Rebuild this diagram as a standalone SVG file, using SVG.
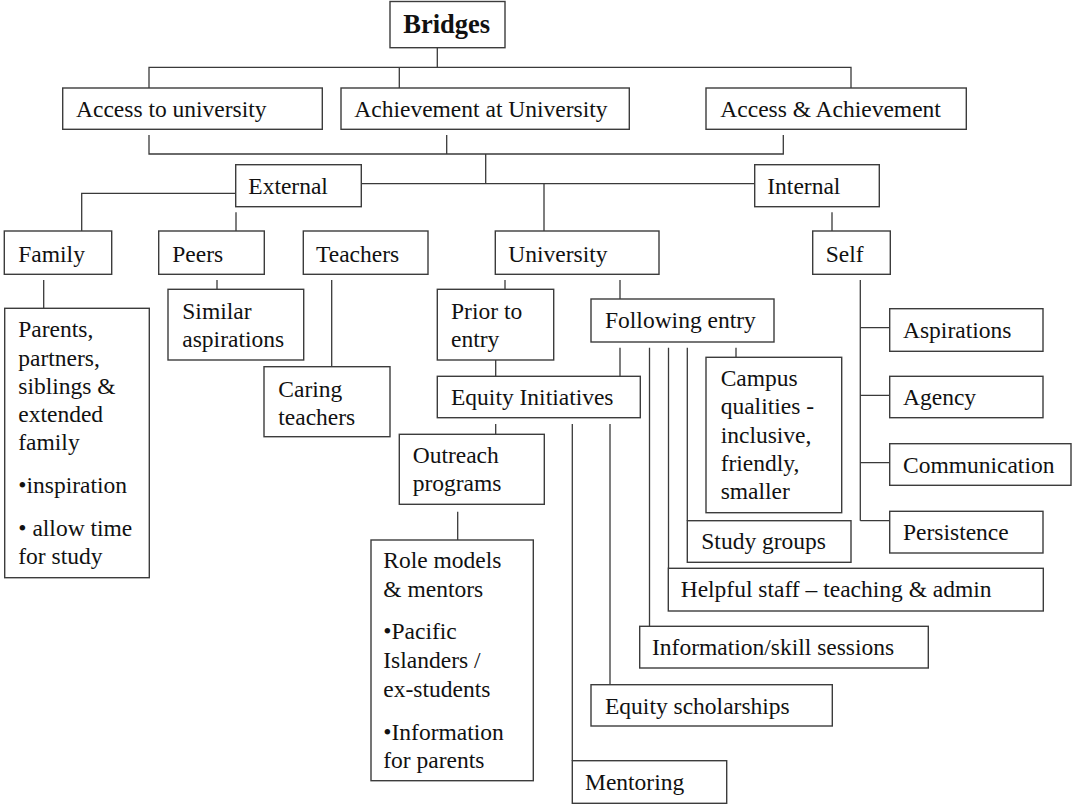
<svg xmlns="http://www.w3.org/2000/svg" width="1073" height="805" viewBox="0 0 1073 805">
<style>
rect{fill:#fff;stroke:#3c3c3c;stroke-width:1.4}
text{font-family:"Liberation Serif","Times New Roman",serif;font-size:23.5px;fill:#111}
.b{font-weight:bold;font-size:26.5px}
#connectors path{fill:none;stroke:#3a3a3a;stroke-width:1.3}
</style>
<rect x="0" y="0" width="1073" height="805" style="fill:#fff;stroke:none"/>
<g id="connectors">
<path d="M437.3 47.7V67.3M149 88V67.3H851V88M399.3 67.3V88"/>
<path d="M149 135V154H783.3V135M446.7 135V154M485.7 154V183.7M361.3 183.7H754.7M544 183.7V231"/>
<path d="M235.7 193.3H81.7V231M236 212.3V231M832 212.3V231"/>
<path d="M43.7 280V308.3M217 280V289.3M331.7 280V366.7M505 280V289.3M620 280V299"/>
<path d="M860.3 280V520.7M860.3 327.7H889.7M860.3 395.3H889.7M860.3 462.7H889.7M860.3 520.7H889.7"/>
<path d="M495.7 360V376.3M620 347.7V376.3M495.7 424V434.3M457.7 511.7V540"/>
<path d="M572.3 424V760.7M610 424V684.7"/>
<path d="M649.5 347.7V626.3M668.5 347.7V568.3M687.3 347.7V520.7M736 347.7V357.3"/>
</g>
<g id="bridges"><rect x="390" y="1.5" width="115" height="46.2"/><text class="b" x="403.3" y="33.3">Bridges</text></g>
<g id="access"><rect x="62.7" y="88" width="259.6" height="41.3"/><text x="76" y="117.3">Access to university</text></g>
<g id="achievement"><rect x="341" y="88" width="288.3" height="41.3"/><text x="354.3" y="117.3">Achievement at University</text></g>
<g id="access-achievement"><rect x="706" y="88" width="260.3" height="41.3"/><text x="720.3" y="117.3">Access &amp; Achievement</text></g>
<g id="external"><rect x="235.7" y="164.7" width="125.6" height="42"/><text x="248.3" y="194.3">External</text></g>
<g id="internal"><rect x="754.7" y="164.7" width="124.6" height="42"/><text x="767.3" y="194.3">Internal</text></g>
<g id="family"><rect x="4.3" y="231" width="107.4" height="43.3"/><text x="18.3" y="261.7">Family</text></g>
<g id="peers"><rect x="158.7" y="231" width="105.6" height="43.3"/><text x="172.3" y="261.7">Peers</text></g>
<g id="teachers"><rect x="303.3" y="231" width="124.7" height="43.3"/><text x="316" y="261.7">Teachers</text></g>
<g id="university"><rect x="495.3" y="231" width="163.7" height="43.3"/><text x="508.3" y="261.7">University</text></g>
<g id="self"><rect x="812.7" y="231" width="77.6" height="43.3"/><text x="825.7" y="261.7">Self</text></g>
<g id="family-detail"><rect x="4.7" y="308.3" width="144.6" height="269.4"/>
<text x="18.3" y="337.3">Parents,</text><text x="18.3" y="365.5">partners,</text><text x="18.3" y="393.6">siblings &amp;</text><text x="18.3" y="421.8">extended</text><text x="18.3" y="450">family</text><text x="18.3" y="493.3">•inspiration</text><text x="18.3" y="536">• allow time</text><text x="18.3" y="564.3">for study</text></g>
<g id="similar"><rect x="168" y="289.3" width="135.7" height="70.7"/><text x="182.3" y="319">Similar</text><text x="182.3" y="347.3">aspirations</text></g>
<g id="caring"><rect x="264" y="366.7" width="126" height="70"/><text x="278.3" y="396.7">Caring</text><text x="278.3" y="424.5">teachers</text></g>
<g id="prior"><rect x="437.3" y="289.3" width="116.4" height="70.7"/><text x="451" y="319">Prior to</text><text x="451" y="347.3">entry</text></g>
<g id="following"><rect x="591" y="299" width="183" height="43"/><text x="605" y="328.3">Following entry</text></g>
<g id="equity-initiatives"><rect x="437.3" y="376.3" width="203" height="41.4"/><text x="451" y="405">Equity Initiatives</text></g>
<g id="outreach"><rect x="399.3" y="434.3" width="145" height="70"/><text x="412.7" y="463.3">Outreach</text><text x="412.7" y="490.7">programs</text></g>
<g id="role-models"><rect x="371" y="540" width="162.3" height="240.7"/>
<text x="383.3" y="568.3">Role models</text><text x="383.3" y="596.7">&amp; mentors</text><text x="383.3" y="639.3">•Pacific</text><text x="383.3" y="668">Islanders /</text><text x="383.3" y="696.7">ex-students</text><text x="383.3" y="740">•Information</text><text x="383.3" y="767.7">for parents</text></g>
<g id="campus"><rect x="706" y="357.3" width="135.7" height="155.4"/>
<text x="720.7" y="386">Campus</text><text x="720.7" y="414.3">qualities -</text><text x="720.7" y="442.5">inclusive,</text><text x="720.7" y="470.7">friendly,</text><text x="720.7" y="499">smaller</text></g>
<g id="study-groups"><rect x="687.3" y="520.7" width="163.7" height="41.6"/><text x="701.3" y="549.3">Study groups</text></g>
<g id="helpful-staff"><rect x="668.3" y="568.3" width="375" height="42.7"/><text x="680.7" y="596.7">Helpful staff – teaching &amp; admin</text></g>
<g id="info-sessions"><rect x="639.7" y="626.3" width="288.6" height="41.7"/><text x="652" y="655">Information/skill sessions</text></g>
<g id="equity-scholarships"><rect x="591" y="684.7" width="241.3" height="41.3"/><text x="605" y="714">Equity scholarships</text></g>
<g id="mentoring"><rect x="572.3" y="760.7" width="154.4" height="42.6"/><text x="585" y="790">Mentoring</text></g>
<g id="aspirations"><rect x="889.7" y="308.7" width="153.3" height="42.6"/><text x="903" y="338.3">Aspirations</text></g>
<g id="agency"><rect x="889.7" y="376.3" width="153.3" height="41.4"/><text x="903" y="405">Agency</text></g>
<g id="communication"><rect x="889.7" y="443.7" width="181.3" height="41.6"/><text x="903" y="472.7">Communication</text></g>
<g id="persistence"><rect x="889.7" y="511.3" width="153.3" height="41.7"/><text x="903" y="540">Persistence</text></g>
</svg>
